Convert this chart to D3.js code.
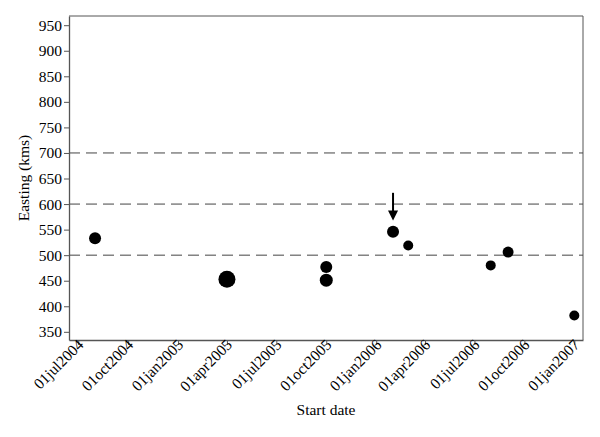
<!DOCTYPE html>
<html>
<head>
    <script src="https://d3js.org/d3.v7.min.js"></script>
    <style>
        body { margin: 0; background: #fff; }
        text { font-family: 'Liberation Serif', 'DejaVu Serif', serif; fill: #000; }
        .axis path, .axis line { stroke: #555; }
        .refline { stroke: #444; stroke-dasharray: 11,6; }
    </style>
</head>
<body>
<script>
    // data
    var startDates = ["2004-08-01", "2005-04-01", "2005-10-01", "2005-10-01", "2006-02-01", "2006-03-01", "2006-07-31", "2006-09-01", "2007-01-01"];
    var eastings = [533, 453, 477, 451, 546, 519, 480, 506, 382];
    var markerSize = [6, 8.5, 6, 6.5, 6, 5, 5, 5.5, 5];
    var yTicks = [350, 400, 450, 500, 550, 600, 650, 700, 750, 800, 850, 900, 950];
    var xTicks = ["2004-07-01", "2004-10-01", "2005-01-01", "2005-04-01", "2005-07-01", "2005-10-01",
                  "2006-01-01", "2006-04-01", "2006-07-01", "2006-10-01", "2007-01-01"];
    var refLines = [500, 600, 700];
    var arrowAt = { date: "2006-02-01", from: 622, to: 568 };

    var W = 600, H = 437;
    var margin = { top: 16, right: 17, bottom: 97, left: 69 };
    var parse = d3.utcParse("%Y-%m-%d");
    var fmt = function(d) { return d3.utcFormat("%d%b%Y")(d).toLowerCase(); };
    var serif = "'Liberation Serif', 'DejaVu Serif', serif";

    var svg = d3.select("body").append("svg")
        .attr("width", W)
        .attr("height", H);

    var x = d3.scaleUtc()
        .domain([parse("2004-06-14"), parse("2007-01-17")])
        .range([margin.left, W - margin.right]);

    var y = d3.scaleLinear()
        .domain([334, 968])
        .range([H - margin.bottom, margin.top]);

    // frame (top / right)
    svg.append("path")
        .attr("d", "M" + margin.left + "," + margin.top + "H" + (W - margin.right) + "V" + (H - margin.bottom))
        .attr("fill", "none")
        .attr("stroke", "#555");

    // dashed reference lines
    svg.selectAll(".refline")
        .data(refLines)
        .enter().append("line")
        .attr("class", "refline")
        .attr("x1", margin.left)
        .attr("x2", W - margin.right)
        .attr("y1", function(d) { return y(d); })
        .attr("y2", function(d) { return y(d); });

    var yAxis = svg.append("g")
        .attr("class", "axis")
        .attr("transform", "translate(" + margin.left + ",0)")
        .call(d3.axisLeft(y).tickValues(yTicks).tickSize(5).tickPadding(2).tickSizeOuter(0));
    yAxis.selectAll("text")
        .style("font-family", serif)
        .style("font-size", "15.5px");

    var xAxis = svg.append("g")
        .attr("class", "axis")
        .attr("transform", "translate(0," + (H - margin.bottom) + ")")
        .call(d3.axisBottom(x).tickValues(xTicks.map(parse)).tickFormat(fmt).tickSize(5).tickSizeOuter(0));
    xAxis.selectAll("text")
        .style("font-family", serif)
        .style("font-size", "15.5px")
        .attr("text-anchor", "end")
        .attr("dy", null)
        .attr("x", 0)
        .attr("y", 8)
        .attr("transform", "rotate(-45)");
    xAxis.select(".domain").attr("stroke-width", 1.3);
    yAxis.select(".domain").attr("stroke-width", 1.3);

    // points
    svg.append("g")
        .selectAll("circle")
        .data(startDates)
        .enter().append("circle")
        .attr("cx", function(d) { return x(parse(d)); })
        .attr("cy", function(d, i) { return y(eastings[i]); })
        .attr("r", function(d, i) { return markerSize[i]; })
        .attr("fill", "#000");

    // arrow annotation
    var ax = x(parse(arrowAt.date));
    svg.append("line")
        .attr("x1", ax).attr("x2", ax)
        .attr("y1", y(arrowAt.from)).attr("y2", y(arrowAt.to) - 8)
        .attr("stroke", "#000").attr("stroke-width", 2);
    svg.append("path")
        .attr("d", "M" + (ax - 5) + "," + (y(arrowAt.to) - 10) + "L" + (ax + 5) + "," + (y(arrowAt.to) - 10) + "L" + ax + "," + y(arrowAt.to) + "Z")
        .attr("fill", "#000");

    // axis titles
    svg.append("text")
        .attr("x", (margin.left + W - margin.right) / 2)
        .attr("y", 415)
        .attr("text-anchor", "middle")
        .style("font-size", "15.5px")
        .text("Start date");

    svg.append("text")
        .attr("transform", "translate(29," + ((margin.top + H - margin.bottom) / 2) + ") rotate(-90)")
        .attr("text-anchor", "middle")
        .style("font-size", "15.5px")
        .text("Easting (kms)");
</script>
</body>
</html>
